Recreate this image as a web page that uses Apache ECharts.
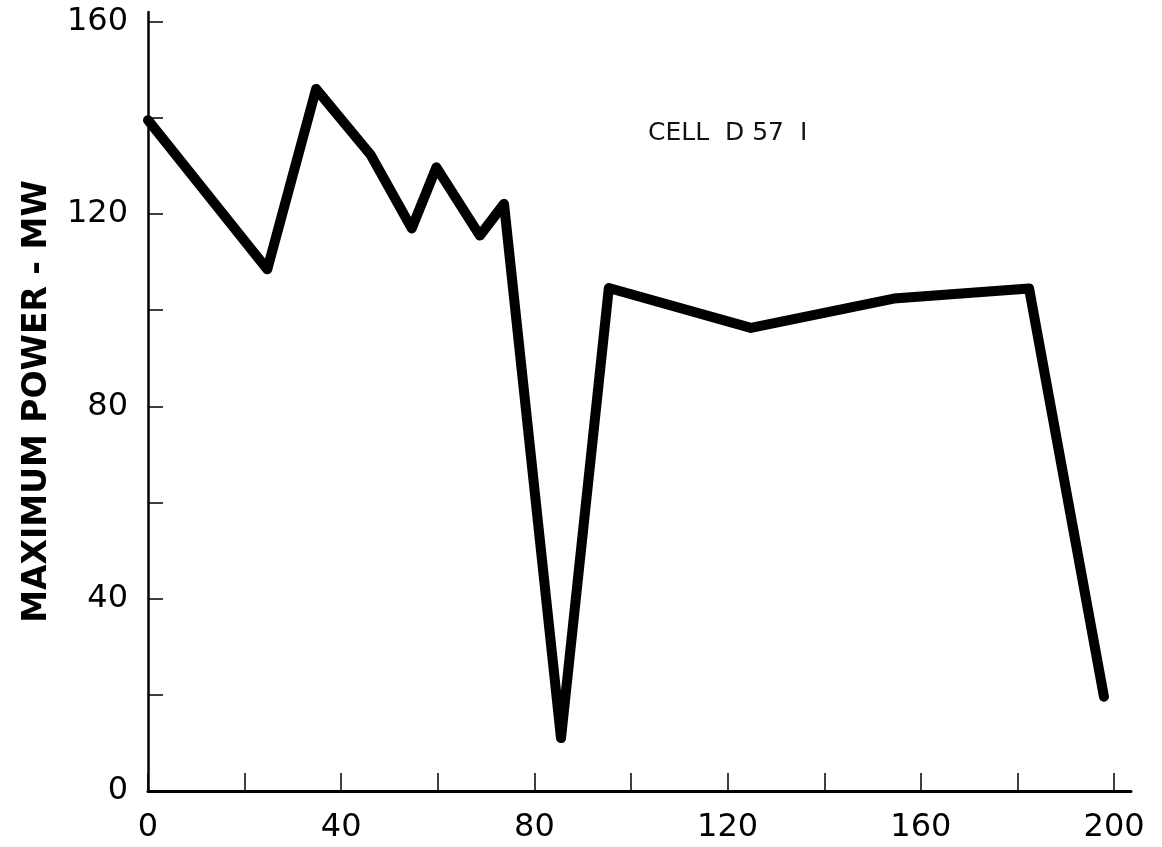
<!DOCTYPE html>
<html>
<head>
<meta charset="utf-8">
<script src="https://cdn.jsdelivr.net/npm/echarts@6/dist/echarts.min.js"></script>
<style>
html,body{margin:0;padding:0;background:#fff;}
#chart{width:1162px;height:847px;}
</style>
</head>
<body>
<div id="chart"></div>
<script>
// hours on test (x) and maximum power (mW)
var hours = [0, 24.7, 34.8, 46.1, 54.6, 59.7, 68.7, 73.7, 85.5, 95.4, 124.8, 154.4, 182.4, 197.9];
var power = [139.5, 108.5, 146, 132.3, 117, 129.7, 115.5, 122.1, 11, 104.6, 96.3, 102.4, 104.5, 19.6];
var xTicks = [0, 20, 40, 60, 80, 100, 120, 140, 160, 180, 200];
var xLabels = [0, 40, 80, 120, 160, 200];
var yTicks = [0, 20, 40, 60, 80, 100, 120, 140, 160];
var yLabels = [0, 40, 80, 120, 160];
var cellName = 'CELL  D 57  I';
var yName = 'MAXIMUM POWER - MW';

init();

function init(){
	var myChart = echarts.init(document.getElementById('chart'));
	var points = [];
	for (var i = 0; i < hours.length; i++) {
		points.push([hours[i], power[i]]);
	}
	var option = {
		backgroundColor: '#fff',
		animation: false,
		title: {
			text: cellName,
			left: 648,
			top: 121,
			padding: 0,
			textStyle: {
				fontFamily: 'DejaVu Sans',
				fontSize: 25,
				fontWeight: 'normal',
				color: '#111'
			}
		},
		grid: {
			left: 148,
			right: 31,
			top: 12,
			bottom: 56,
			containLabel: false
		},
		xAxis: {
			type: 'value',
			min: 0,
			max: 203.5,
			splitLine: {show: false},
			axisLine: {lineStyle: {color: '#000', width: 3}},
			axisTick: {
				inside: true,
				length: 18,
				customValues: xTicks,
				lineStyle: {color: '#000', width: 1.5}
			},
			axisLabel: {
				customValues: xLabels,
				margin: 21,
				fontFamily: 'DejaVu Sans',
				fontSize: 32,
				color: '#000'
			}
		},
		yAxis: {
			type: 'value',
			min: 0,
			max: 162,
			name: yName,
			nameLocation: 'middle',
			nameGap: 94,
			nameTextStyle: {
				fontFamily: 'DejaVu Sans',
				fontWeight: 'bold',
				fontSize: 33,
				color: '#000'
			},
			splitLine: {show: false},
			axisLine: {show: true, lineStyle: {color: '#000', width: 2.5}},
			axisTick: {
				show: true,
				inside: true,
				length: 15,
				customValues: yTicks,
				lineStyle: {color: '#000', width: 1.5}
			},
			axisLabel: {
				customValues: yLabels,
				margin: 20,
				fontFamily: 'DejaVu Sans',
				fontSize: 32,
				color: '#000'
			}
		},
		series: [{
			type: 'line',
			data: points,
			symbol: 'none',
			lineStyle: {
				color: '#000',
				width: 10,
				join: 'round',
				cap: 'round'
			}
		}]
	};
	myChart.setOption(option);
}
</script>
</body>
</html>
